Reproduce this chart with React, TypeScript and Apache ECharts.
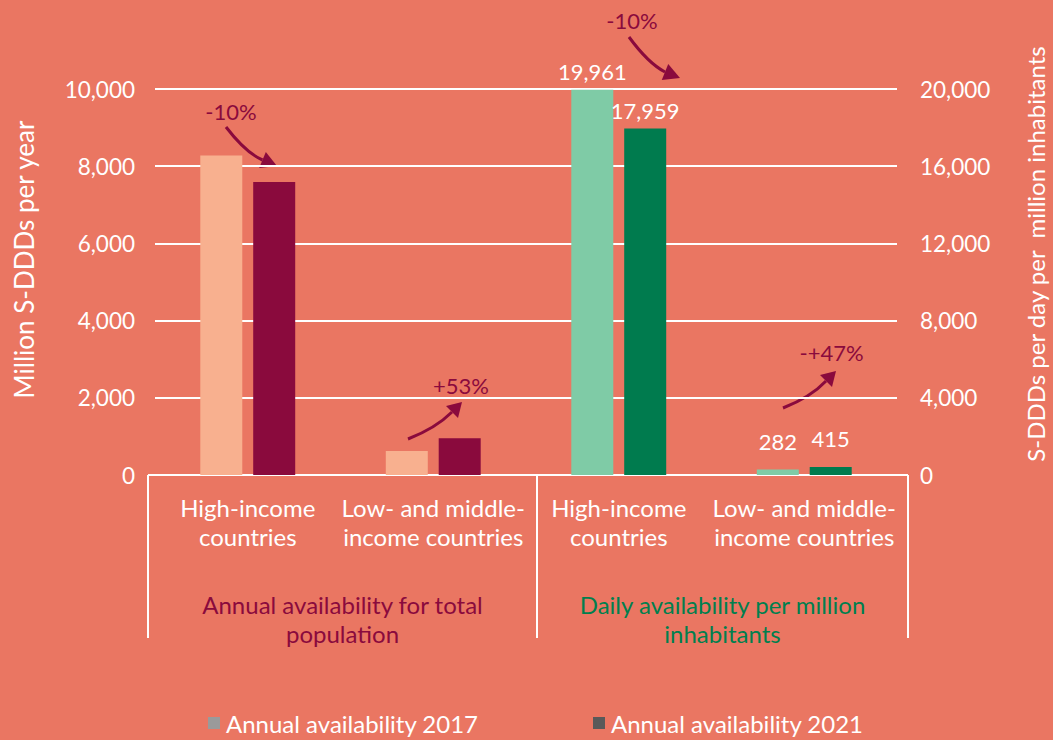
import React, { useEffect, useRef } from 'react';
import * as echarts from 'echarts';

const categories = [
  'High-income\ncountries',
  'Low- and middle-\nincome countries',
  'High-income\ncountries',
  'Low- and middle-\nincome countries',
];
const annual2017 = [8280, 620, '-', '-'];
const annual2021 = [7590, 950, '-', '-'];
const daily2017 = ['-', '-', 19961, 282];
const daily2021 = ['-', '-', 17959, 415];
const leftAxis = { min: 0, max: 10000, interval: 2000 };
const rightAxis = { min: 0, max: 20000, interval: 4000 };
const groupLabels = ['Annual availability for total\npopulation', 'Daily availability per million\ninhabitants'];
const changeLabels = ['-10%', '-10%', '+53%', '-+47%'];
const seriesNames = ['Annual availability 2017', 'Annual availability 2021'];

const BG = '#EA7662';
const MAROON = '#8A0A3D';
const GREEN = '#007F4E';
const FONT = 'Lato, "Open Sans", sans-serif';

function arrow(s: number[], c: number[], tip: number[], base: number[], halfW: number) {
  const dx = tip[0] - base[0];
  const dy = tip[1] - base[1];
  const len = Math.hypot(dx, dy);
  const nx = -dy / len;
  const ny = dx / len;
  return [
    {
      type: 'bezierCurve',
      shape: { x1: s[0], y1: s[1], x2: base[0], y2: base[1], cpx1: c[0], cpy1: c[1] },
      style: { stroke: MAROON, lineWidth: 3, fill: 'none' },
    },
    {
      type: 'polygon',
      shape: {
        points: [
          tip,
          [base[0] + nx * halfW, base[1] + ny * halfW],
          [base[0] - nx * halfW, base[1] - ny * halfW],
        ],
      },
      style: { fill: MAROON },
    },
  ];
}

function pctText(t: string, x: number, y: number) {
  return {
    type: 'text',
    x,
    y,
    style: { text: t, fill: MAROON, font: `22px ${FONT}`, align: 'center', verticalAlign: 'middle' },
  };
}

function whiteLine(x1: number, y1: number, x2: number, y2: number) {
  return { type: 'line', shape: { x1, y1, x2, y2 }, style: { stroke: '#FFFFFF', lineWidth: 2 } };
}

export default function App() {
  const ref = useRef<HTMLDivElement>(null);
  useEffect(() => {
    if (!ref.current) return;
    const chart = echarts.init(ref.current, null, { renderer: 'svg' });
    const fmt = (v: number) => Number(v).toLocaleString('en-US');
    const dailyData = (arr: any[]) =>
      arr.map((v) => (v === '-' ? '-' : { value: v, label: { distance: v < 1000 ? 17 : 7 } }));
    const barLabel = {
      show: true,
      position: 'top',
      color: '#FFFFFF',
      fontSize: 22,
      fontFamily: FONT,
      formatter: (p: any) => fmt(p.value),
    };
    const legendBase = {
      top: 706,
      itemWidth: 12,
      itemHeight: 12,
      icon: 'rect',
      selectedMode: false,
      textStyle: { color: '#FFFFFF', fontSize: 24, fontFamily: FONT, padding: [0, 0, 0, 1] },
    };
    chart.setOption({
      animation: false,
      backgroundColor: BG,
      textStyle: { fontFamily: FONT },
      grid: { left: 155, right: 156, top: 89, bottom: 265 },
      legend: [
        { ...legendBase, left: 203, data: [{ name: seriesNames[0], itemStyle: { color: '#9A9A9A' } }] },
        { ...legendBase, left: 588, data: [{ name: seriesNames[1], itemStyle: { color: '#595959' } }] },
      ],
      xAxis: [
        {
          type: 'category',
          data: categories,
          axisLine: { show: false },
          axisTick: { show: false },
          axisLabel: {
            interval: 0,
            color: '#FFFFFF',
            fontSize: 24,
            lineHeight: 29,
            margin: 18,
            fontFamily: FONT,
          },
        },
        {
          type: 'category',
          data: categories,
          show: false,
        },
      ],
      yAxis: [
        {
          type: 'value',
          ...leftAxis,
          axisLine: { show: false },
          axisTick: { show: false },
          axisLabel: { color: '#FFFFFF', fontSize: 22.5, margin: 20, fontFamily: FONT, formatter: fmt },
          splitLine: { lineStyle: { color: '#FFFFFF', width: 2 } },
        },
        {
          type: 'value',
          ...rightAxis,
          axisLine: { show: false },
          axisTick: { show: false },
          axisLabel: { color: '#FFFFFF', fontSize: 22.5, margin: 23, fontFamily: FONT, formatter: fmt },
          splitLine: { show: false },
        },
      ],
      series: [
        {
          type: 'bar',
          name: seriesNames[0],
          xAxisIndex: 0,
          yAxisIndex: 0,
          data: annual2017,
          barWidth: 42,
          barGap: '26%',
          itemStyle: { color: '#F8B08F' },
        },
        {
          type: 'bar',
          name: seriesNames[1],
          xAxisIndex: 0,
          yAxisIndex: 0,
          data: annual2021,
          barWidth: 42,
          barGap: '26%',
          itemStyle: { color: MAROON },
        },
        {
          type: 'bar',
          name: seriesNames[0],
          xAxisIndex: 1,
          yAxisIndex: 1,
          data: dailyData(daily2017),
          barWidth: 42,
          barGap: '26%',
          itemStyle: { color: '#7FCBA6' },
          label: barLabel,
        },
        {
          type: 'bar',
          name: seriesNames[1],
          xAxisIndex: 1,
          yAxisIndex: 1,
          data: dailyData(daily2021),
          barWidth: 42,
          barGap: '26%',
          itemStyle: { color: '#007B4E' },
          label: barLabel,
        },
      ],
      graphic: [
        whiteLine(148, 475, 908, 475),
        whiteLine(148, 475, 148, 638),
        whiteLine(537, 475, 537, 638),
        whiteLine(908, 475, 908, 638),
        {
          type: 'text',
          x: 342.5,
          y: 618.5,
          style: {
            text: groupLabels[0],
            fill: MAROON,
            font: `24px ${FONT}`,
            lineHeight: 29,
            align: 'center',
            verticalAlign: 'middle',
          },
        },
        {
          type: 'text',
          x: 722.5,
          y: 618.5,
          style: {
            text: groupLabels[1],
            fill: GREEN,
            font: `24px ${FONT}`,
            lineHeight: 29,
            align: 'center',
            verticalAlign: 'middle',
          },
        },
        {
          type: 'text',
          x: 24,
          y: 259.5,
          rotation: Math.PI / 2,
          style: {
            text: 'Million S-DDDs per year',
            fill: '#FFFFFF',
            font: `26px ${FONT}`,
            align: 'center',
            verticalAlign: 'middle',
          },
        },
        {
          type: 'text',
          x: 1035,
          y: 254,
          rotation: Math.PI / 2,
          style: {
            text: 'S-DDDs per day per  million inhabitants',
            fill: '#FFFFFF',
            font: `24px ${FONT}`,
            align: 'center',
            verticalAlign: 'middle',
          },
        },
        ...arrow([226, 127], [246, 153], [277, 166], [262.5, 160], 8.7),
        ...arrow([629, 37], [648, 63], [680, 78], [665, 72], 8.7),
        ...arrow([408, 439], [436, 428], [462, 402], [452, 412], 8.5),
        ...arrow([783, 408], [811, 397], [836, 371], [826, 381], 8.5),
        pctText(changeLabels[0], 231, 111),
        pctText(changeLabels[1], 632, 20),
        pctText(changeLabels[2], 461, 385),
        pctText(changeLabels[3], 831.5, 352),
      ],
    });
    return () => chart.dispose();
  }, []);
  return (
    <div style={{ position: 'fixed', left: 0, top: 0, width: 1053, height: 740, background: BG }}>
      <div ref={ref} style={{ width: 1053, height: 740 }} />
    </div>
  );
}
